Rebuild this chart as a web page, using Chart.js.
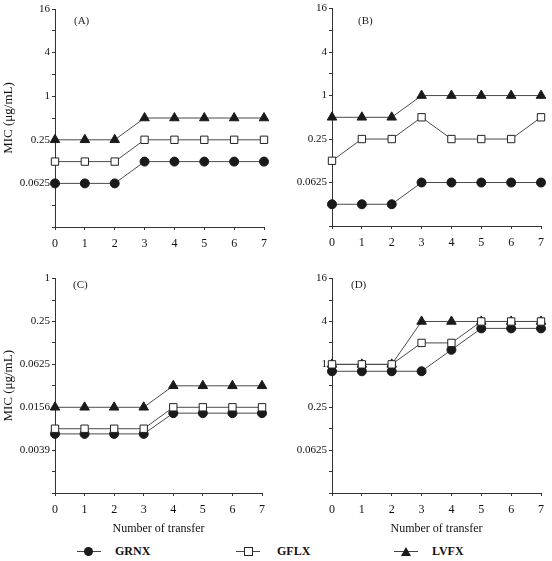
<!DOCTYPE html>
<html>
<head>
<meta charset="utf-8">
<script src="https://cdn.jsdelivr.net/npm/chart.js@4/dist/chart.umd.min.js"></script>
<style>
  body { margin: 0; background: #fff; }
  #wrap { position: relative; width: 552px; height: 561px; font-family: "Liberation Serif", "DejaVu Serif", serif; color: #111; }
  canvas { position: absolute; }
  .leg { position: absolute; top: 544px; height: 14px; }
  .leg .ln { position: absolute; top: 7px; width: 24px; height: 1px; background: #444; }
  .leg .txt { position: absolute; top: 0; font-size: 12px; font-weight: bold; line-height: 14px; }
  .mk-c { position: absolute; top: 3px; left: 7px; width: 9px; height: 9px; border-radius: 50%; background: #1a1a1a; }
  .mk-s { position: absolute; top: 3px; left: 8px; width: 7px; height: 7px; border: 1px solid #222; background: #fff; }
  .mk-t { position: absolute; top: 3px; left: 7px; width: 0; height: 0; border-left: 5px solid transparent; border-right: 5px solid transparent; border-bottom: 9px solid #1a1a1a; }
</style>
</head>
<body>
<div id="wrap">
  <canvas id="chartA" width="276" height="270" style="left:0;top:0"></canvas>
  <canvas id="chartB" width="276" height="270" style="left:276px;top:0"></canvas>
  <canvas id="chartC" width="276" height="270" style="left:0;top:270px"></canvas>
  <canvas id="chartD" width="276" height="270" style="left:276px;top:270px"></canvas>

  <div class="leg" style="left:77px"><div class="ln"></div><div class="mk-c"></div><div class="txt" style="left:38px">GRNX</div></div>
  <div class="leg" style="left:236px"><div class="ln"></div><div class="mk-s"></div><div class="txt" style="left:41px">GFLX</div></div>
  <div class="leg" style="left:394px"><div class="ln"></div><div class="mk-t"></div><div class="txt" style="left:38px">LVFX</div></div>
</div>

<script>
// x categories: number of transfer
const transfers = ['0', '1', '2', '3', '4', '5', '6', '7'];

// MIC values (ug/mL)
const grnxA = [0.0625, 0.0625, 0.0625, 0.125, 0.125, 0.125, 0.125, 0.125];
const gflxA = [0.125, 0.125, 0.125, 0.25, 0.25, 0.25, 0.25, 0.25];
const lvfxA = [0.25, 0.25, 0.25, 0.5, 0.5, 0.5, 0.5, 0.5];

const grnxB = [0.03125, 0.03125, 0.03125, 0.0625, 0.0625, 0.0625, 0.0625, 0.0625];
const gflxB = [0.125, 0.25, 0.25, 0.5, 0.25, 0.25, 0.25, 0.5];
const lvfxB = [0.5, 0.5, 0.5, 1, 1, 1, 1, 1];

const grnxC = [0.0066, 0.0066, 0.0066, 0.0066, 0.0129, 0.0129, 0.0129, 0.0129];
const gflxC = [0.0078, 0.0078, 0.0078, 0.0078, 0.0156, 0.0156, 0.0156, 0.0156];
const lvfxC = [0.0156, 0.0156, 0.0156, 0.0156, 0.03125, 0.03125, 0.03125, 0.03125];

const grnxD = [0.8, 0.8, 0.8, 0.8, 1.6, 3.2, 3.2, 3.2];
const gflxD = [1, 1, 1, 2, 2, 4, 4, 4];
const lvfxD = [1, 1, 1, 4, 4, 4, 4, 4];

// y axis: labelled ticks and range (powers of two)
const yTickValuesABD = [16, 4, 1, 0.25, 0.0625];
const yTickLabelsABD = ['16', '4', '1', '0.25', '0.0625'];
const yTickValuesC = [1, 0.25, 0.0625, 0.015625, 0.00390625];
const yTickLabelsC = ['1', '0.25', '0.0625', '0.0156', '0.0039'];

Chart.defaults.font.family = '"Liberation Serif", "DejaVu Serif", serif';
Chart.defaults.font.size = 11;
Chart.defaults.color = '#111';

const panelLabel = {
    id: 'panelLabel',
    afterDraw(chart, args, opts) {
        const ctx = chart.ctx;
        ctx.save();
        ctx.font = '11px "Liberation Serif", serif';
        ctx.fillStyle = '#222';
        ctx.textBaseline = 'middle';
        ctx.fillText(opts.text, chart.chartArea.left + opts.dx, opts.y);
        ctx.restore();
    }
};

function series(label, data, style) {
    return Object.assign({
        label: label,
        data: data,
        borderColor: '#4a4a4a',
        borderWidth: 1,
        tension: 0
    }, style);
}

function makePanel(id, cfg) {
    const powers = [];
    for (let e = cfg.maxExp; e >= cfg.minExp; e--) powers.push(Math.pow(2, e));

    new Chart(document.getElementById(id), {
        type: 'line',
        data: {
            labels: transfers,
            datasets: [
                series('GFLX', cfg.gflx, { order: 0, pointStyle: 'rect', pointRadius: 5.2, pointBackgroundColor: '#fff', pointBorderColor: '#222', pointBorderWidth: 1 }),
                series('GRNX', cfg.grnx, { order: 1, pointStyle: 'circle', pointRadius: 4.5, pointBackgroundColor: '#1a1a1a', pointBorderColor: '#1a1a1a' }),
                series('LVFX', cfg.lvfx, { order: 2, pointStyle: 'triangle', pointRadius: 5.5, pointBackgroundColor: '#1a1a1a', pointBorderColor: '#1a1a1a' })
            ]
        },
        options: {
            responsive: false,
            animation: false,
            layout: { padding: { top: cfg.padTop, right: cfg.padRight, left: 0, bottom: 0 } },
            plugins: {
                legend: { display: false },
                tooltip: { enabled: false },
                panelLabel: { text: cfg.label, dx: cfg.labelDx, y: cfg.labelY }
            },
            scales: {
                x: {
                    offset: false,
                    grid: { drawOnChartArea: false, drawTicks: true, tickLength: 3, color: '#333' },
                    border: { display: true, color: '#333' },
                    ticks: { padding: 7, font: { size: 12 }, color: '#111' },
                    title: { display: cfg.xTitle, text: 'Number of transfer', font: { size: 12 }, padding: { top: 0, bottom: 4 } },
                    afterFit: s => { s.height = cfg.xHeight; }
                },
                y: {
                    type: 'logarithmic',
                    min: Math.pow(2, cfg.minExp),
                    max: Math.pow(2, cfg.maxExp),
                    afterBuildTicks: s => { s.ticks = powers.map(v => ({ value: v })); },
                    grid: { drawOnChartArea: false, drawTicks: true, tickLength: 3, color: '#333' },
                    border: { display: true, color: '#333' },
                    ticks: {
                        autoSkip: false,
                        padding: 2,
                        color: '#111',
                        callback: v => {
                            const i = cfg.tickValues.findIndex(t => Math.abs(Math.log2(t) - Math.log2(v)) < 0.01);
                            return i >= 0 ? cfg.tickLabels[i] : '';
                        }
                    },
                    title: { display: cfg.yTitle, text: 'MIC (μg/mL)', font: { size: 13 }, padding: { top: 1, bottom: 0 } },
                    afterFit: s => { s.width = cfg.yWidth; }
                }
            }
        },
        plugins: [panelLabel]
    });
}

makePanel('chartA', { label: '(A)', labelDx: 19, labelY: 21, grnx: grnxA, gflx: gflxA, lvfx: lvfxA,
    minExp: -6, maxExp: 4, tickValues: yTickValuesABD, tickLabels: yTickLabelsABD,
    padTop: 9, padRight: 12, xHeight: 43, yWidth: 55, xTitle: false, yTitle: true });
makePanel('chartB', { label: '(B)', labelDx: 26, labelY: 21, grnx: grnxB, gflx: gflxB, lvfx: lvfxB,
    minExp: -6, maxExp: 4, tickValues: yTickValuesABD, tickLabels: yTickLabelsABD,
    padTop: 6, padRight: 11, xHeight: 44, yWidth: 56, xTitle: false, yTitle: false });
makePanel('chartC', { label: '(C)', labelDx: 18, labelY: 15, grnx: grnxC, gflx: gflxC, lvfx: lvfxC,
    minExp: -10, maxExp: 0, tickValues: yTickValuesC, tickLabels: yTickLabelsC,
    padTop: 5, padRight: 14, xHeight: 47, yWidth: 55, xTitle: true, yTitle: true });
makePanel('chartD', { label: '(D)', labelDx: 19, labelY: 15, grnx: grnxD, gflx: gflxD, lvfx: lvfxD,
    minExp: -6, maxExp: 4, tickValues: yTickValuesABD, tickLabels: yTickLabelsABD,
    padTop: 5, padRight: 11, xHeight: 47, yWidth: 56, xTitle: true, yTitle: false });
</script>
</body>
</html>
